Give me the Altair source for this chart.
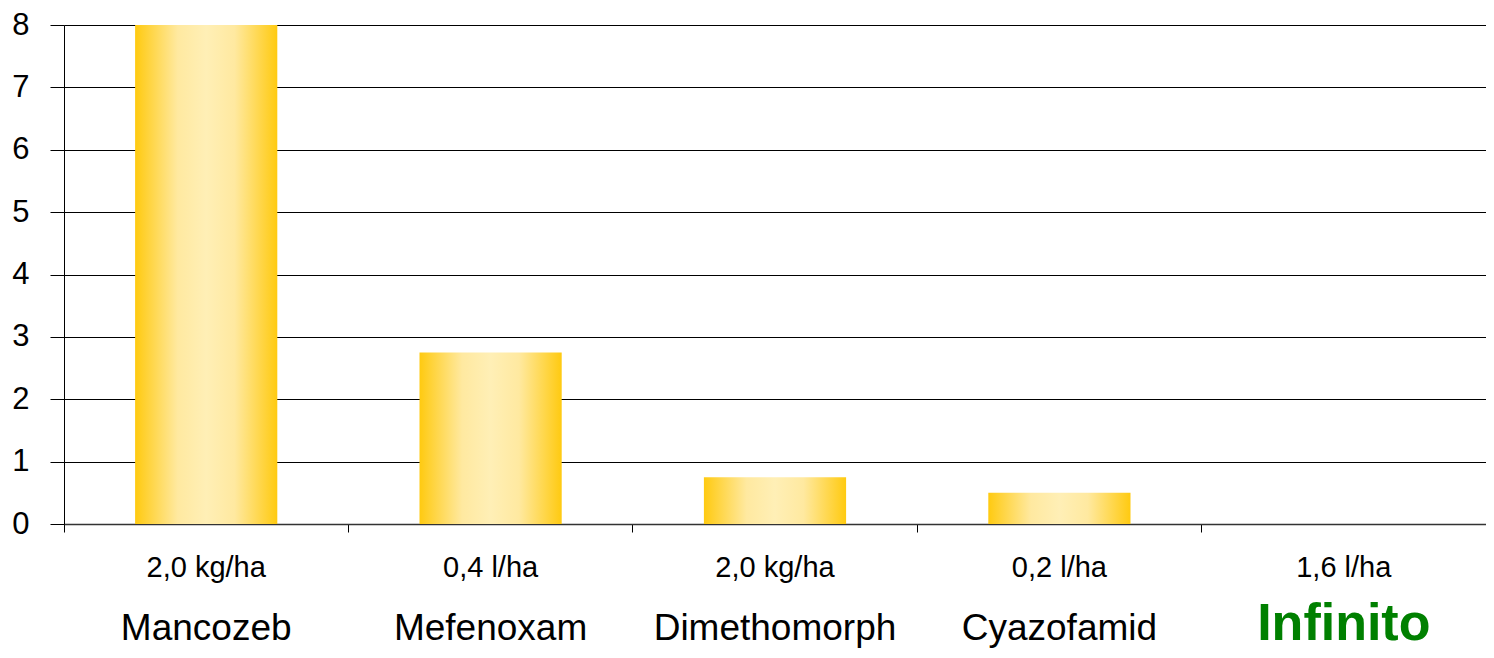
import altair as alt
import pandas as pd

categories = ["Mancozeb", "Mefenoxam", "Dimethomorph", "Cyazofamid", "Infinito"]
values = [8.0, 2.75, 0.75, 0.5, 0.0]
doses = ["2,0 kg/ha", "0,4 l/ha", "2,0 kg/ha", "0,2 l/ha", "1,6 l/ha"]

df = pd.DataFrame({"category": categories, "value": values, "dose": doses})

W, H = 1422, 499
TOP = 17
FONT = "Liberation Sans"

gold = "#FFCA10"
light = "#FFEFB6"
grad = alt.Gradient(
    gradient="linear",
    stops=[
        alt.GradientStop(color=gold, offset=0),
        alt.GradientStop(color="#FFE9A0", offset=0.3),
        alt.GradientStop(color=light, offset=0.5),
        alt.GradientStop(color="#FFE9A0", offset=0.7),
        alt.GradientStop(color=gold, offset=1),
    ],
    x1=0, x2=1, y1=0, y2=0,
)

xenc = alt.X(
    "category:N",
    sort=categories,
    scale=alt.Scale(paddingInner=0, paddingOuter=0),
    axis=alt.Axis(
        labels=False, title=None, bandPosition=0, tickSize=8,
        tickColor="#000000", domainColor="#333333", domainWidth=1.5, grid=False,
    ),
)

bars = alt.Chart(df).mark_bar(color=grad, width=alt.RelativeBandSize(0.5)).encode(
    x=xenc,
    y=alt.Y(
        "value:Q",
        scale=alt.Scale(domain=[0, 8], nice=False),
        axis=alt.Axis(
            values=[0, 1, 2, 3, 4, 5, 6, 7, 8], title=None, tickSize=14,
            labelPadding=21, labelFontSize=31, labelFont=FONT, labelColor="#000000",
            tickColor="#000000", domainColor="#000000", grid=True,
            gridColor="#000000", gridWidth=1, gridOpacity=1,
        ),
    ),
)

dose_text = alt.Chart(df).mark_text(
    font=FONT, fontSize=29, color="#000000", baseline="alphabetic", align="center"
).encode(
    x=alt.X("category:N", sort=categories),
    y=alt.value(H + 53),
    text="dose:N",
)

names = alt.Chart(df).transform_filter(
    alt.datum.category != "Infinito"
).mark_text(
    font=FONT, fontSize=37, color="#000000", baseline="alphabetic", align="center"
).encode(
    x=alt.X("category:N", sort=categories),
    y=alt.value(H + 116),
    text="category:N",
)

infinito = alt.Chart(df).transform_filter(
    alt.datum.category == "Infinito"
).mark_text(
    font=FONT, fontSize=52, fontWeight="bold", color="#008000",
    baseline="alphabetic", align="center"
).encode(
    x=alt.X("category:N", sort=categories),
    y=alt.value(H + 116),
    text="category:N",
)

chart = alt.layer(bars, dose_text, names, infinito).properties(
    width=W, height=H,
    autosize=alt.AutoSizeParams(type="none"),
    padding={"left": 56, "top": TOP, "right": 0, "bottom": 642 - TOP - H},
).configure_view(stroke=None).configure(background="#ffffff")

chart.save("out.html", embed_options={"renderer": "svg", "actions": False})
